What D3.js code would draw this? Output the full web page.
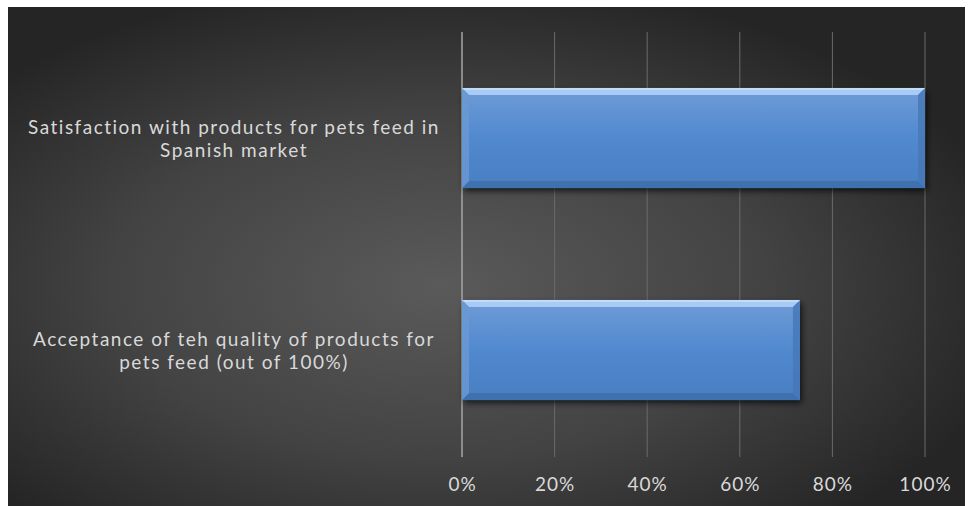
<!DOCTYPE html>
<html>
<head>
<meta charset="utf-8">
<script src="https://cdn.jsdelivr.net/npm/d3@7"></script>
<style>
  html, body { margin: 0; padding: 0; background: #ffffff; }
  svg { display: block; }
  text { font-family: Lato, "Open Sans", sans-serif; }
</style>
</head>
<body>
<svg id="chart" width="970" height="506"></svg>
<script>
// Survey results: share of respondents (0..1)
const categories = [
  "Satisfaction with products for pets feed in Spanish market",
  "Acceptance of teh quality of products for pets feed (out of 100%)"
];
const labelLines = [
  ["Satisfaction with products for pets feed in", "Spanish market"],
  ["Acceptance of teh quality of products for", "pets feed (out of 100%)"]
];
const values = [1.00, 0.73];
const tickValues = [0, 0.2, 0.4, 0.6, 0.8, 1.0];

const W = 970, H = 506;
const svg = d3.select("#chart");
const defs = svg.append("defs");

// dark backdrop with a soft light centre
const bg = defs.append("radialGradient").attr("id", "bg")
  .attr("cx", 0.45).attr("cy", 0.56).attr("r", 0.62);
bg.append("stop").attr("offset", 0).attr("stop-color", "#5a5a5a");
bg.append("stop").attr("offset", 0.55).attr("stop-color", "#434343");
bg.append("stop").attr("offset", 1).attr("stop-color", "#252525");

svg.append("rect").attr("x", 8).attr("y", 7)
  .attr("width", W - 8 - 5).attr("height", H - 7)
  .attr("fill", "url(#bg)");

// bar face gradient
const face = defs.append("linearGradient").attr("id", "face")
  .attr("x1", 0).attr("y1", 0).attr("x2", 0).attr("y2", 1);
face.append("stop").attr("offset", 0).attr("stop-color", "#6f9cd6");
face.append("stop").attr("offset", 0.5).attr("stop-color", "#5189cf");
face.append("stop").attr("offset", 1).attr("stop-color", "#4a7ec2");

const shadow = defs.append("filter").attr("id", "shadow")
  .attr("x", "-5%").attr("y", "-10%").attr("width", "115%").attr("height", "130%");
shadow.append("feGaussianBlur").attr("in", "SourceAlpha").attr("stdDeviation", 3).attr("result", "b");
shadow.append("feOffset").attr("in", "b").attr("dx", 2).attr("dy", 3).attr("result", "o");
shadow.append("feComponentTransfer").attr("in", "o").attr("result", "s")
  .append("feFuncA").attr("type", "linear").attr("slope", 0.7);
const merge = shadow.append("feMerge");
merge.append("feMergeNode").attr("in", "s");
merge.append("feMergeNode").attr("in", "SourceGraphic");

const x = d3.scaleLinear().domain([0, 1]).range([462, 925]);
const y = d3.scaleBand().domain(categories).range([32, 456])
  .paddingInner(0.528).paddingOuter(0.264);

// vertical gridlines
svg.append("g").selectAll("line").data(tickValues).join("line")
  .attr("x1", d => x(d)).attr("x2", d => x(d))
  .attr("y1", 32).attr("y2", 457)
  .attr("stroke", (d, i) => i === 0 ? "#a6a6a6" : "#6b6b6b")
  .attr("stroke-width", (d, i) => i === 0 ? 1.5 : 1);

// x axis tick labels
const xAxis = d3.axisBottom(x).tickValues(tickValues)
  .tickFormat(d3.format(".0%")).tickSize(0).tickPadding(0);
const gx = svg.append("g").attr("transform", "translate(0,477)").call(xAxis);
gx.select(".domain").remove();
gx.selectAll("text").attr("fill", "#d9d9d9").attr("font-size", 19)
  .attr("letter-spacing", 1)
  .attr("font-family", "Lato, sans-serif");

// bars with bevelled edges
const bv = 7;
const bars = svg.append("g").selectAll("g").data(values).join("g")
  .attr("filter", "url(#shadow)");
bars.each(function(v, i) {
  const g = d3.select(this);
  const x0 = x(0), x1 = x(v), y0 = y(categories[i]), y1 = y0 + y.bandwidth();
  g.append("rect").attr("x", x0).attr("y", y0)
    .attr("width", x1 - x0).attr("height", y1 - y0).attr("fill", "url(#face)");
  const poly = (pts, fill, op) => g.append("polygon")
    .attr("points", pts.map(p => p.join(",")).join(" "))
    .attr("fill", fill).attr("opacity", op);
  poly([[x0, y0], [x1, y0], [x1 - bv, y0 + bv], [x0 + bv, y0 + bv]], "#a8cbf5", 1);
  poly([[x0, y0], [x1, y0], [x1, y0 + 2], [x0, y0 + 2]], "#c4ddf9", 0.9);
  poly([[x0, y1], [x1, y1], [x1 - bv, y1 - bv], [x0 + bv, y1 - bv]], "#3f6eab", 0.85);
  poly([[x1, y0], [x1, y1], [x1 - bv, y1 - bv], [x1 - bv, y0 + bv]], "#4677b6", 0.8);
  poly([[x0, y0], [x0, y1], [x0 + bv, y1 - bv], [x0 + bv, y0 + bv]], "#6b98d3", 0.8);
});

// category labels, one text per line
const lineH = 23;
svg.append("g").selectAll("g").data(labelLines).join("g")
  .each(function(lines, i) {
    const cy = y(categories[i]) + y.bandwidth() / 2 - 4;
    d3.select(this).selectAll("text").data(lines).join("text")
      .attr("text-anchor", "middle").attr("fill", "#d9d9d9")
      .attr("font-size", 19).attr("letter-spacing", 1.5)
      .attr("x", 234)
      .attr("y", (d, j) => cy + j * lineH)
      .text(d => d);
  });
</script>
</body>
</html>
